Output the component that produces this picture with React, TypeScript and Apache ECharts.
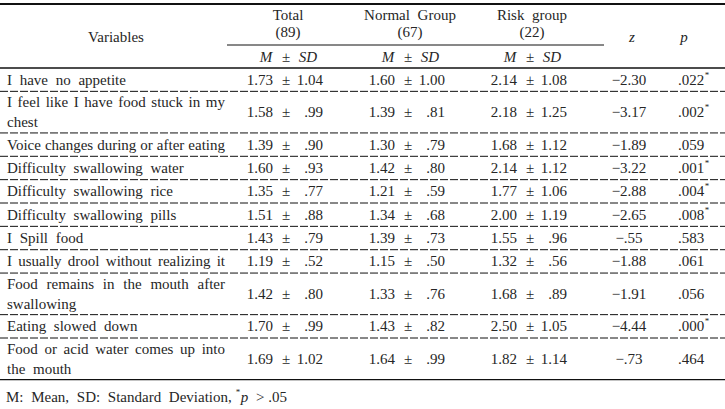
import React, { useEffect, useRef } from "react";
import * as echarts from "echarts";

const variables = [
  "I have no appetite",
  "I feel like I have food stuck in my\nchest",
  "Voice changes during or after eating",
  "Difficulty swallowing water",
  "Difficulty swallowing rice",
  "Difficulty swallowing pills",
  "I Spill food",
  "I usually drool without realizing it",
  "Food remains in the mouth after\nswallowing",
  "Eating slowed down",
  "Food or acid water comes up into\nthe mouth",
];
const groupNames = ["Total", "Normal Group", "Risk group"];
const groupNs = ["(89)", "(67)", "(22)"];
const totalMean = [1.73, 1.58, 1.39, 1.6, 1.35, 1.51, 1.43, 1.19, 1.42, 1.7, 1.69];
const totalSD = [1.04, 0.99, 0.9, 0.93, 0.77, 0.88, 0.79, 0.52, 0.8, 0.99, 1.02];
const normalMean = [1.6, 1.39, 1.3, 1.42, 1.21, 1.34, 1.39, 1.15, 1.33, 1.43, 1.64];
const normalSD = [1.0, 0.81, 0.79, 0.8, 0.59, 0.68, 0.73, 0.5, 0.76, 0.82, 0.99];
const riskMean = [2.14, 2.18, 1.68, 2.14, 1.77, 2.0, 1.55, 1.32, 1.68, 2.5, 1.82];
const riskSD = [1.08, 1.25, 1.12, 1.12, 1.06, 1.19, 0.96, 0.56, 0.89, 1.05, 1.14];
const zValues = [-2.3, -3.17, -1.89, -3.22, -2.88, -2.65, -0.55, -1.88, -1.91, -4.44, -0.73];
const pValues = [0.022, 0.002, 0.059, 0.001, 0.004, 0.008, 0.583, 0.061, 0.056, 0.0, 0.464];

const FONT_FAMILY = "'Liberation Serif', 'Times New Roman', serif";
const FS = 15;
const SPACE = 7.7;
const TXT = "#262626";
const LINE = "#111";

function fmt2(v: number) {
  const a = Math.abs(v);
  const s = a.toFixed(2);
  return a < 1 ? s.slice(1) : s;
}
function fmtZ(v: number) {
  return (v < 0 ? "\u2212" : "") + fmt2(v);
}
function fmtP(v: number) {
  return v.toFixed(3).slice(1);
}

let ctx2d: CanvasRenderingContext2D | null = null;
function measure(t: string, italic = false, size = FS) {
  if (!ctx2d) {
    ctx2d = document.createElement("canvas").getContext("2d");
  }
  if (!ctx2d) return t.length * size * 0.45;
  ctx2d.font = `${italic ? "italic " : ""}${size}px ${FONT_FAMILY}`;
  return ctx2d.measureText(t).width;
}

function txt(x: number, y: number, text: string, align: string, extra: any = {}) {
  return {
    type: "text",
    silent: true,
    style: {
      x,
      y,
      text,
      align,
      verticalAlign: "middle",
      textAlign: align,
      textVerticalAlign: "middle",
      fontSize: FS,
      fontFamily: FONT_FAMILY,
      fill: TXT,
      ...extra,
    },
  };
}

function hline(x1: number, x2: number, y: number, w: number, dash?: number[]) {
  return {
    type: "line",
    silent: true,
    shape: { x1, y1: y, x2, y2: y },
    style: { stroke: LINE, lineWidth: w, lineDash: dash || null },
  };
}

// lay out words one by one with a wide space; compress to fit maxW, or justify to exactly maxW
function words(
  x: number,
  y: number,
  line: string,
  maxW: number,
  justify: boolean,
  align: "left" | "center" = "left"
) {
  const ws = line.split(" ");
  const widths = ws.map((w) => measure(w));
  const glyphs = widths.reduce((a, b) => a + b, 0);
  let gap = SPACE;
  if (ws.length > 1) {
    const natural = glyphs + SPACE * (ws.length - 1);
    if (justify || natural > maxW) gap = (maxW - glyphs) / (ws.length - 1);
  }
  const totalW = glyphs + gap * (ws.length - 1);
  let cx = align === "center" ? x - totalW / 2 : x;
  const els: any[] = [];
  ws.forEach((w, i) => {
    els.push(txt(cx, y, w, "left"));
    cx += widths[i] + gap;
  });
  return { els, end: cx - gap };
}

function buildGraphics() {
  const els: any[] = [];
  const W = 725;
  els.push(hline(0, W, 4, 2.2));
  els.push(hline(227, 604, 45, 1));
  els.push(hline(0, W, 68, 1.3));

  els.push(...words(116, 37, "Variables", 300, false, "center").els);
  const groupCenters = [288, 410, 532];
  groupNames.forEach((g, i) => {
    els.push(...words(groupCenters[i], 15, g, 300, false, "center").els);
    els.push(txt(groupCenters[i], 32, groupNs[i], "center"));
    els.push(txt(groupCenters[i] - 22, 57, "M", "center", { fontStyle: "italic" }));
    els.push(txt(groupCenters[i] - 2, 57, "\u00b1", "center"));
    els.push(txt(groupCenters[i] + 20, 57, "SD", "center", { fontStyle: "italic" }));
  });
  els.push(txt(632, 37, "z", "center", { fontStyle: "italic" }));
  els.push(txt(684, 37, "p", "center", { fontStyle: "italic" }));

  const single = 23.35;
  const dbl = 41.6;
  let y = 68;
  const meanRights = [273, 395, 517];
  const groups = [
    [totalMean, totalSD],
    [normalMean, normalSD],
    [riskMean, riskSD],
  ];
  variables.forEach((v, r) => {
    const lines = v.split("\n");
    const h = lines.length > 1 ? dbl : single;
    const cy = y + h / 2;
    const lh = 20;
    lines.forEach((ln, li) => {
      const ly = cy + (li - (lines.length - 1) / 2) * lh;
      els.push(...words(7, ly, ln, 218, li < lines.length - 1).els);
    });
    groups.forEach(([m, sd], gi) => {
      const mr = meanRights[gi];
      els.push(txt(mr, cy, m[r].toFixed(2), "right"));
      els.push(txt(mr + 13, cy, "\u00b1", "center"));
      els.push(txt(mr + 50, cy, fmt2(sd[r]), "right"));
    });
    els.push(txt(629, cy, fmtZ(zValues[r]), "center"));
    els.push(txt(691, cy, fmtP(pValues[r]), "center"));
    if (pValues[r] < 0.05) {
      els.push(txt(707, cy - 5, "*", "center", { fontSize: 9 }));
    }
    y += h;
    if (r < variables.length - 1) {
      els.push(hline(0, W, y, 1, [8, 2]));
    } else {
      els.push(hline(0, W, y, 1.3));
    }
  });

  // footnote
  const fy = 397;
  const fn = words(6, fy, "M: Mean, SD: Standard Deviation,", 400, false);
  els.push(...fn.els);
  let fx = fn.end + 4;
  els.push(txt(fx, fy - 5, "*", "left", { fontSize: 9 }));
  fx += measure("*", false, 9) + 0.5;
  els.push(txt(fx, fy, "p", "left", { fontStyle: "italic" }));
  fx += measure("p", true) + SPACE;
  els.push(txt(fx, fy, ">", "left"));
  fx += measure(">") + SPACE * 0.5;
  els.push(txt(fx, fy, ".05", "left"));
  return els;
}

export default function App() {
  const ref = useRef<HTMLDivElement>(null);
  useEffect(() => {
    if (!ref.current) return;
    const chart = echarts.init(ref.current, undefined, { renderer: "svg" });
    chart.setOption({
      animation: false,
      backgroundColor: "#ffffff",
      graphic: { elements: buildGraphics() },
    });
    return () => chart.dispose();
  }, []);
  return (
    <div
      ref={ref}
      style={{ position: "fixed", left: 0, top: 0, width: 725, height: 409, background: "#fff" }}
    />
  );
}
